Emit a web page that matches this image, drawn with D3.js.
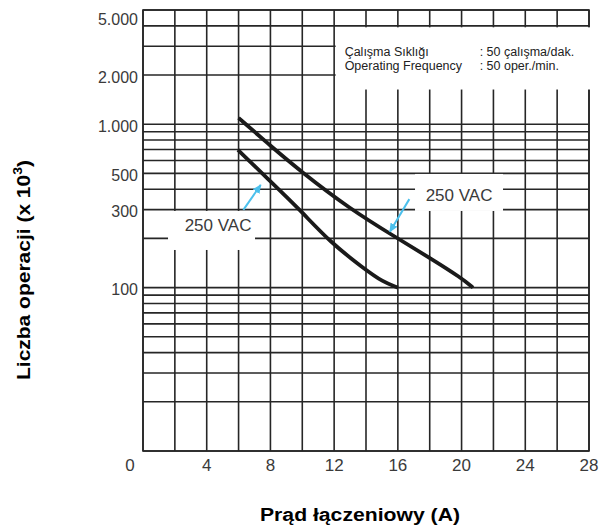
<!DOCTYPE html>
<html>
<head>
<meta charset="utf-8">
<script src="https://cdn.jsdelivr.net/npm/d3@7"></script>
<style>
  body { margin: 0; background: #fff; }
  svg { display: block; font-family: Arial, "Liberation Sans", Helvetica, sans-serif; }
</style>
</head>
<body>
<svg id="chart" width="600" height="531"></svg>
<script>
// x: switching current (A), y: number of operations (x 10^3)
const xTicks = [0, 4, 8, 12, 16, 20, 24, 28];
const yTicks = [100, 300, 500, 1000, 2000, 5000];

const curveUpper = [
  [6.0, 1093], [7.97, 742], [9.86, 518], [12.99, 303],
  [15.95, 201], [18.15, 149], [19.96, 115], [20.72, 100]
];
const curveLower = [
  [5.96, 696], [7.97, 450], [9.86, 299], [11.74, 190],
  [13.81, 132], [15.07, 108], [16.01, 100]
];

const labelNames = ["250 VAC", "250 VAC"];
const labelPos = [[4.71, 240], [19.84, 369]];
const arrowFrom = [[6.30, 299], [16.72, 348]];
const arrowTo = [[7.39, 425], [15.50, 220]];

const legendKeys = ["Çalışma Sıklığı", "Operating Frequency"];
const legendVals = [": 50 çalışma/dak.", ": 50 oper./min."];

const xTitle = "Prąd łączeniowy (A)";
const yTitle = "Liczba operacji (x 10";

const W = 600, H = 531;
const margin = {top: 10, right: 11, bottom: 80, left: 143};

const svg = d3.select("#chart");

const x = d3.scaleLinear().domain([0, 28]).range([margin.left, W - margin.right]);
const y = d3.scaleLog().domain([10, 5000]).range([H - margin.bottom, margin.top]);

const fmt = d3.formatLocale({decimal: ",", thousands: ".", grouping: [3], currency: ["", ""]}).format(",");

const GRID = "#262626";
const BLUE = "#4cc0ec";

// grid
const grid = svg.append("g")
  .attr("stroke", GRID)
  .attr("stroke-width", 1.6);

grid.selectAll("line.v")
  .data(x.ticks(14))
  .enter()
  .append("line")
  .attr("x1", d => x(d)).attr("x2", d => x(d))
  .attr("y1", y(5000)).attr("y2", y(10));

grid.selectAll("line.h")
  .data(y.ticks())
  .enter()
  .append("line")
  .attr("x1", x(0)).attr("x2", x(28))
  .attr("y1", d => y(d)).attr("y2", d => y(d));

grid.append("rect")
  .attr("x", x(0)).attr("y", y(5000))
  .attr("width", x(28) - x(0)).attr("height", y(10) - y(5000))
  .attr("fill", "none");

// white boxes that break the grid behind the texts
const legendBox = {x0: x(12) + 1.5, x1: x(28) + 2, y0: y(4000) + 1.5, y1: y(2000) + 14.5};
svg.append("rect")
  .attr("x", legendBox.x0).attr("y", legendBox.y0)
  .attr("width", legendBox.x1 - legendBox.x0)
  .attr("height", legendBox.y1 - legendBox.y0)
  .attr("fill", "#fff");

const boxPad = [{l: 50, r: 37, t: 14.5, b: 24.5}, {l: 44, r: 44, t: 21, b: 16}];
svg.append("g")
  .selectAll("rect")
  .data(labelPos)
  .enter()
  .append("rect")
  .attr("x", (d, i) => x(d[0]) - boxPad[i].l)
  .attr("y", (d, i) => y(d[1]) - boxPad[i].t)
  .attr("width", (d, i) => boxPad[i].l + boxPad[i].r)
  .attr("height", (d, i) => boxPad[i].t + boxPad[i].b)
  .attr("fill", "#fff");

// curves
const line = d3.line()
  .x(d => x(d[0]))
  .y(d => y(d[1]))
  .curve(d3.curveBasis);

svg.append("g")
  .selectAll("path")
  .data([curveUpper, curveLower])
  .enter()
  .append("path")
  .attr("d", line)
  .attr("fill", "none")
  .attr("stroke", "#1a1a1a")
  .attr("stroke-width", 3.8);

// arrows
svg.append("defs").append("marker")
  .attr("id", "head")
  .attr("viewBox", "0 -5 10 10")
  .attr("refX", 9).attr("refY", 0)
  .attr("markerUnits", "userSpaceOnUse")
  .attr("markerWidth", 9).attr("markerHeight", 9)
  .attr("orient", "auto")
  .append("path")
  .attr("d", "M0,-4.5L10,0L0,4.5Z")
  .attr("fill", BLUE);

svg.append("g")
  .selectAll("line")
  .data(arrowFrom)
  .enter()
  .append("line")
  .attr("x1", d => x(d[0])).attr("y1", d => y(d[1]))
  .attr("x2", (d, i) => x(arrowTo[i][0])).attr("y2", (d, i) => y(arrowTo[i][1]))
  .attr("stroke", BLUE)
  .attr("stroke-width", 2)
  .attr("marker-end", "url(#head)");

svg.append("g")
  .selectAll("text")
  .data(labelPos)
  .enter()
  .append("text")
  .attr("x", d => x(d[0]))
  .attr("y", d => y(d[1]))
  .attr("dy", "0.35em")
  .attr("text-anchor", "middle")
  .attr("font-size", 17)
  .attr("fill", "#3a3a3a")
  .text((d, i) => labelNames[i]);

// legend
const legend = svg.append("g")
  .attr("font-size", 12.5)
  .attr("fill", "#222");
legendKeys.forEach((k, i) => {
  const by = legendBox.y0 + 28.5 + i * 14;
  legend.append("text").attr("x", legendBox.x0 + 9).attr("y", by).text(k);
  legend.append("text").attr("x", legendBox.x0 + 144).attr("y", by).text(legendVals[i]);
});

// tick labels
svg.append("g")
  .selectAll("text")
  .data(yTicks)
  .enter()
  .append("text")
  .attr("x", x(0) - 5)
  .attr("y", d => Math.max(y(d) + 2, margin.top + 9))
  .attr("dy", "0.35em")
  .attr("text-anchor", "end")
  .attr("font-size", 16)
  .attr("fill", "#3a3a3a")
  .text(fmt);

svg.append("g")
  .selectAll("text")
  .data(xTicks)
  .enter()
  .append("text")
  .attr("x", d => d === 0 ? x(d) - 13 : x(d))
  .attr("y", y(10) + 20)
  .attr("text-anchor", "middle")
  .attr("font-size", 17)
  .attr("fill", "#3a3a3a")
  .text(d => d);

// axis titles
svg.append("text")
  .attr("x", 360)
  .attr("y", 521)
  .attr("text-anchor", "middle")
  .attr("font-size", 18)
  .attr("font-weight", "bold")
  .attr("textLength", 200)
  .attr("lengthAdjust", "spacingAndGlyphs")
  .text(xTitle);

const yt = svg.append("text")
  .attr("transform", "translate(30,270) rotate(-90)")
  .attr("text-anchor", "middle")
  .attr("font-size", 18)
  .attr("font-weight", "bold")
  .attr("textLength", 220)
  .attr("lengthAdjust", "spacingAndGlyphs");
yt.append("tspan").text(yTitle);
yt.append("tspan").attr("font-size", 12).attr("dy", -8).text("3");
yt.append("tspan").attr("dy", 8).text(")");
</script>
</body>
</html>
